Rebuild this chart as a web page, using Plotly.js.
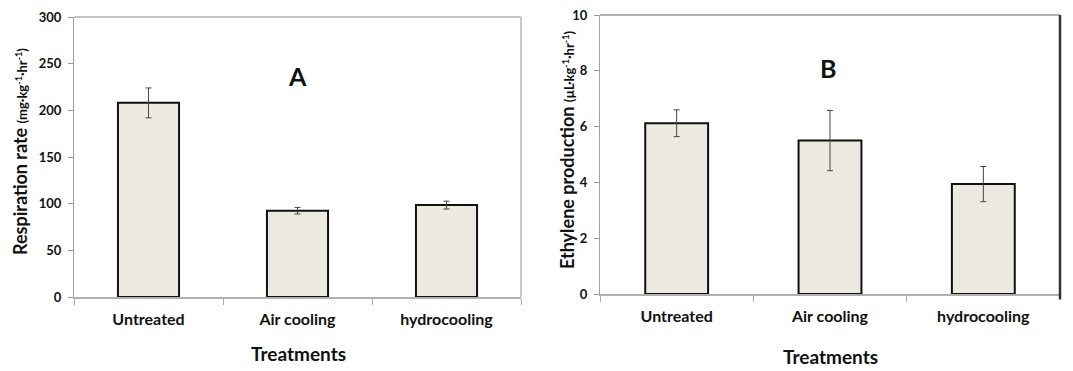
<!DOCTYPE html>
<html>
<head>
<meta charset="utf-8">
<script src="https://cdn.plot.ly/plotly-3.0.1.min.js"></script>
<style>html,body{margin:0;padding:0;background:#fff;}#chart{width:1073px;height:371px;}</style>
</head>
<body>
<div id="chart"></div>
<script>
const categories = ["Untreated", "Air cooling", "hydrocooling"];
const respiration = [208, 92.5, 98.5];
const respirationErr = [16, 3.5, 4.2];
const ethylene = [6.12, 5.5, 3.94];
const ethyleneErr = [0.48, 1.08, 0.63];
const respTicks = [0, 50, 100, 150, 200, 250, 300];
const ethTicks = [0, 2, 4, 6, 8, 10];

const FONT = "Lato, 'Open Sans', sans-serif";
const barFill = "#ECEAE0";

const traces = [
  {
    type: "bar", x: categories, y: respiration, xaxis: "x", yaxis: "y",
    width: 0.41,
    marker: {color: barFill, line: {color: "#111", width: 2}},
    error_y: {type: "data", array: respirationErr, visible: true, color: "#444", thickness: 1, width: 3},
    hoverinfo: "none"
  },
  {
    type: "bar", x: categories, y: ethylene, xaxis: "x2", yaxis: "y2",
    width: 0.41,
    marker: {color: barFill, line: {color: "#111", width: 2}},
    error_y: {type: "data", array: ethyleneErr, visible: true, color: "#444", thickness: 1, width: 3},
    hoverinfo: "none"
  }
];

function xAx(domain, anchor) {
  return {
    domain: domain, anchor: anchor, type: "category",
    tickson: "boundaries", ticks: "outside", ticklen: 6, tickcolor: "#aaa", tickwidth: 1,
    showline: true, linecolor: "#b0b0b0", linewidth: 1.5,
    showgrid: false, zeroline: false, fixedrange: true,
    tickfont: {family: FONT, size: 16, color: "#111", weight: "bold"},
    ticklabelstandoff: 7
  };
}
function yAx(domain, anchor, range, ticks) {
  return {
    domain: domain, anchor: anchor, range: range,
    tickvals: ticks, ticktext: ticks.map(String),
    ticks: "outside", ticklen: 5, tickcolor: "#999", tickwidth: 1,
    showline: true, linecolor: "#a0a0a0", linewidth: 1,
    showgrid: false, zeroline: false, fixedrange: true,
    tickfont: {family: FONT, size: 13, color: "#111", weight: "bold"},
    ticklabelstandoff: 4
  };
}

function ann(text, x, y, size, extra) {
  return Object.assign({
    text: text, xref: "paper", yref: "paper", x: x / W, y: 1 - y / H,
    xanchor: "center", yanchor: "middle", showarrow: false,
    font: {family: FONT, size: size, color: "#111", weight: "bold"}
  }, extra || {});
}

const W = 1073, H = 371;
const layout = {
  width: W, height: H,
  margin: {l: 0, r: 0, t: 0, b: 0},
  paper_bgcolor: "#fff", plot_bgcolor: "#fff",
  showlegend: false,
  xaxis: xAx([74 / W, 521 / W], "y"),
  yaxis: yAx([1 - 297 / H, 1 - 17 / H], "x", [0, 300], respTicks),
  xaxis2: xAx([600 / W, 1060 / W], "y2"),
  yaxis2: yAx([1 - 294 / H, 1 - 15 / H], "x2", [0, 10], ethTicks),
  shapes: [
    {type: "line", xref: "x domain", yref: "y domain", x0: 0, x1: 1, y0: 1, y1: 1, line: {color: "#888", width: 1}},
    {type: "line", xref: "x domain", yref: "y domain", x0: 1, x1: 1, y0: 0, y1: 1, line: {color: "#c8c8c8", width: 2}},
    {type: "line", xref: "x2 domain", yref: "y2 domain", x0: 0, x1: 1, y0: 1, y1: 1, line: {color: "#999", width: 1.5}},
    {type: "line", xref: "x2 domain", yref: "y2 domain", x0: 1, x1: 1, y0: -0.02, y1: 1, line: {color: "#333", width: 2.5}}
  ],
  annotations: [
    ann("A", 297, 76, 25),
    ann("B", 828, 68, 25),
    ann("Treatments", 298, 353, 19),
    ann("Treatments", 830, 356, 19),
    ann("Respiration rate <span style='font-size:13px'>(mg·kg<sup>-1</sup>·hr<sup>-1</sup>)</span>", 20, 152, 18,
        {textangle: -90}),
    ann("Ethylene production <span style='font-size:13px'>(µL·kg<sup>-1</sup>·hr<sup>-1</sup>)</span>", 567, 150, 18,
        {textangle: -90})
  ]
};

Plotly.newPlot("chart", traces, layout, {displayModeBar: false, staticPlot: true});
</script>
</body>
</html>
